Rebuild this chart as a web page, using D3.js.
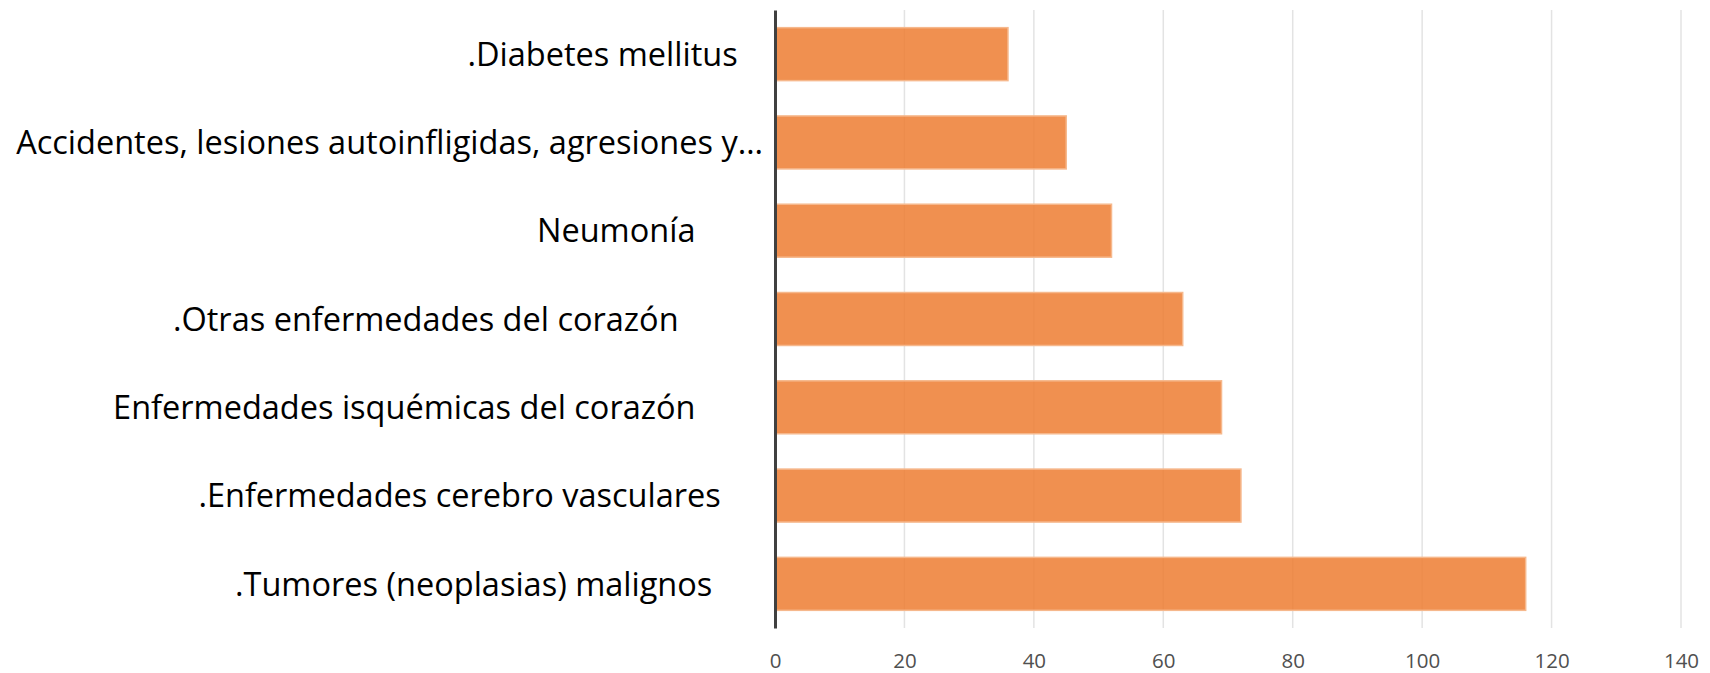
<!DOCTYPE html>
<html>
<head>
<meta charset="utf-8">
<script src="https://cdn.jsdelivr.net/npm/d3@7"></script>
<style>
body{margin:0;background:#fff;}
svg{display:block;font-family:"Open Sans",sans-serif;}
</style>
</head>
<body>
<svg></svg>
<script>

// causes, top to bottom as in the chart
var causes=[
".Diabetes mellitus   ",
"Accidentes, lesiones autoinfligidas, agresiones y…",
"Neumonía        ",
".Otras enfermedades del corazón          ",
"Enfermedades isquémicas del corazón        ",
".Enfermedades cerebro vasculares     ",
".Tumores (neoplasias) malignos      "
]

var deaths=[36,45,52,63,69,72,116]

var ticks=[0,20,40,60,80,100,120,140]

var screen={width:1710,height:673}
var margins={top:10,right:29,bottom:45,left:775}

var setup=function()
{
    var svg=d3.select("svg")
    .attr("width",screen.width)
    .attr("height",screen.height)

    var width=screen.width-margins.left-margins.right
    var height=screen.height-margins.top-margins.bottom

    var xScale=d3.scaleLinear()
    .domain([0,140])
    .range([0,width])

    var yScale=d3.scaleBand()
    .domain(causes)
    .range([0,height])
    .paddingInner(0.4)
    .paddingOuter(0.2)

    var graph=svg.append("g")
    .attr("transform","translate("+margins.left+","+margins.top+")")

    // gridlines
    graph.append("g")
    .selectAll("line")
    .data(ticks.slice(1))
    .enter()
    .append("line")
    .attr("x1",function(t){return xScale(t)})
    .attr("x2",function(t){return xScale(t)})
    .attr("y1",0)
    .attr("y2",height)
    .attr("stroke","#e3e3e3")
    .attr("stroke-width",1.5)

    graph.append("g")
    .selectAll("rect")
    .data(deaths)
    .enter()
    .append("rect")
    .attr("x",0)
    .attr("y",function(d,i){return yScale(causes[i])})
    .attr("width",function(d){return xScale(d)})
    .attr("height",yScale.bandwidth())
    .attr("fill","#ed7d31")
    .attr("fill-opacity",0.85)
    .attr("stroke","#f6b88c")
    .attr("stroke-width",1.5)

    var xAxis=d3.axisBottom(xScale)
    .tickValues(ticks)
    .tickSize(0)
    .tickPadding(25)

    var gx=graph.append("g")
    .attr("transform","translate(0,"+height+")")
    .call(xAxis)
    gx.select(".domain").remove()
    gx.selectAll("text")
    .attr("font-family","Open Sans")
    .attr("font-size",20.5)
    .attr("fill","#505050")

    var yAxis=d3.axisLeft(yScale)
    .tickSize(0)
    .tickPadding(12)

    var gy=graph.append("g")
    .call(yAxis)
    gy.select(".domain")
    .attr("stroke","#404040")
    .attr("stroke-width",3)
    gy.selectAll("text")
    .attr("font-family","Open Sans")
    .attr("font-size",32.5)
    .attr("fill","#000")
    .attr("dy","0.36em")
    .style("white-space","pre")
}

setup()

</script>
</body>
</html>
